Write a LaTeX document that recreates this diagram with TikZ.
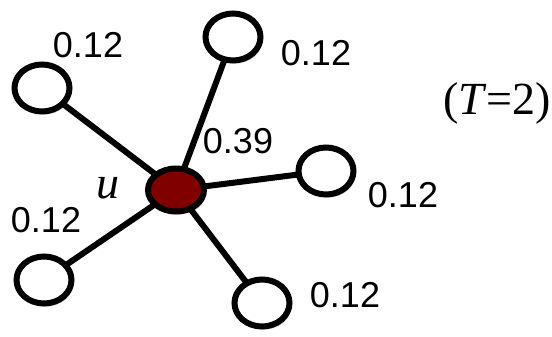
\documentclass[tikz,border=0pt]{standalone}
\usepackage{fontspec}
\setmainfont{Liberation Serif}
\newfontfamily\arialfont{Liberation Sans}
\usetikzlibrary{shapes.geometric,shadows}
\definecolor{maroon}{RGB}{128,0,0}
\tikzset{
  leaf/.style={ellipse, draw=black, line width=6pt, fill=white, minimum width=55pt, minimum height=47pt, inner sep=0pt,
    drop shadow={shadow xshift=2pt, shadow yshift=-3pt, opacity=0.25, fill=black}},
  center/.style={ellipse, draw=black, line width=6pt, fill=maroon, minimum width=56pt, minimum height=43pt, inner sep=0pt,
    drop shadow={shadow xshift=2pt, shadow yshift=-3pt, opacity=0.25, fill=black}},
  edge/.style={draw=black, line width=6pt},
  prob/.style={font=\arialfont\fontsize{36}{40}\selectfont, inner sep=0pt},
  serif/.style={font=\fontsize{46}{50}\selectfont, inner sep=0pt}
}
\begin{document}
\begin{tikzpicture}[x=1pt, y=-1pt]
\useasboundingbox (0,0) rectangle (552,337);
% edges first
\coordinate (cu) at (176,190);
\coordinate (ctl) at (42,88);
\coordinate (ct) at (233,37);
\coordinate (cr) at (326,171);
\coordinate (cbl) at (44,280);
\coordinate (cb) at (262,303);
\draw[edge] (cu) -- (ctl);
\draw[edge] (cu) -- (ct);
\draw[edge] (cu) -- (cr);
\draw[edge] (cu) -- (cbl);
\draw[edge] (cu) -- (cb);
% nodes
\node[leaf] (tl) at (ctl) {};
\node[leaf] (t) at (ct) {};
\node[leaf] (r) at (cr) {};
\node[leaf] (bl) at (cbl) {};
\node[leaf] (b) at (cb) {};
\node[center] (u) at (cu) {};
% labels
\node[prob] (ltl) at (88,45) {0.12};
\node[prob] (lt) at (316,53) {0.12};
\node[prob] (lu) at (238,141) {0.39};
\node[prob] (lr) at (403,195) {0.12};
\node[prob] (lb) at (345,295) {0.12};
\node[prob] (lbl) at (46,220) {0.12};
\node[serif] (lun) at (108,188) {\textit{u}};
\node[serif] (T) at (497,103) {(\textit{T}=2)};
\end{tikzpicture}
\end{document}
